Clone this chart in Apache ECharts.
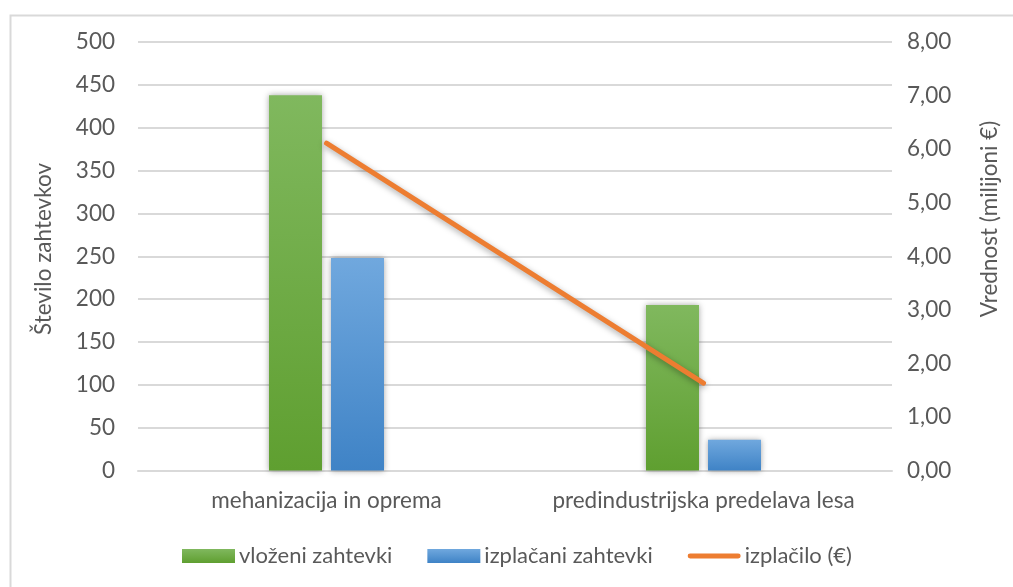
<!DOCTYPE html>
<html>
<head>
<meta charset="utf-8">
<script src="https://cdn.jsdelivr.net/npm/echarts@6/dist/echarts.min.js"></script>
<style>html,body{margin:0;padding:0;background:#fff;}#c{width:1013px;height:587px;}</style>
</head>
<body>
<div id="c"></div>
<script>
const categories = ['mehanizacija in oprema', 'predindustrijska predelava lesa'];
const vlozeni = [438, 193];
const izplacani = [248, 36];
const izplacilo = [6.11, 1.63];
const seriesNames = ['vloženi zahtevki', 'izplačani zahtevki', 'izplačilo (€)'];
const leftTitle = 'Število zahtevkov';
const rightTitle = 'Vrednost (milijoni €)';

const FONT = 'Lato';
const FS = 22.5;
const TXT = '#595959';
const chart = echarts.init(document.getElementById('c'), null, {renderer: 'canvas'});
const grad = (a, b) => new echarts.graphic.LinearGradient(0, 0, 0, 1, [{offset: 0, color: a}, {offset: 1, color: b}]);
chart.setOption({
  animation: false,
  backgroundColor: '#fff',
  textStyle: {fontFamily: FONT, color: TXT},
  grid: {left: 138, right: 121, top: 42, bottom: 116.5},
  legend: {
    left: 177, top: 540, itemWidth: 53, itemHeight: 14, itemGap: 35,
    textStyle: {fontFamily: FONT, fontSize: 22, color: TXT, padding: [0, 0, 0, -1]},
    data: [
      {name: seriesNames[0], icon: 'rect'},
      {name: seriesNames[1], icon: 'rect'},
      {name: seriesNames[2], icon: 'path://M2,4.5h49a2.5,2.5 0 0 1 0,5h-49a2.5,2.5 0 0 1 0,-5z M0,0h0.01v0.01h-0.01z M53,14h-0.01v-0.01h0.01z'}
    ]
  },
  xAxis: {
    type: 'category', data: categories,
    axisLine: {show: true, lineStyle: {color: '#d9d9d9', width: 2}},
    axisTick: {show: false},
    axisLabel: {fontFamily: FONT, fontSize: FS, color: TXT, margin: 19, interval: 0, hideOverlap: false}
  },
  yAxis: [
    {
      type: 'value', min: 0, max: 500, interval: 50,
      axisLine: {show: false}, axisTick: {show: false},
      splitLine: {lineStyle: {color: '#d9d9d9', width: 2}},
      axisLabel: {fontFamily: FONT, fontSize: FS, color: TXT, margin: 23}
    },
    {
      type: 'value', min: 0, max: 8, interval: 1, position: 'right',
      axisLine: {show: false}, axisTick: {show: false}, splitLine: {show: false},
      axisLabel: {fontFamily: FONT, fontSize: FS, color: TXT, margin: 15,
        formatter: v => v.toFixed(2).replace('.', ',')}
    }
  ],
  series: [
    {
      name: seriesNames[0], type: 'bar', data: vlozeni, barWidth: 53, barGap: '17%',
      itemStyle: {color: grad('#80b85e', '#5f9f30'), shadowBlur: 6, shadowColor: 'rgba(0,0,0,0.35)'}
    },
    {
      name: seriesNames[1], type: 'bar', data: izplacani, barWidth: 53, barGap: '17%',
      itemStyle: {color: grad('#70a8de', '#3f83c6'), shadowBlur: 6, shadowColor: 'rgba(0,0,0,0.35)'}
    },
    {
      name: seriesNames[2], type: 'line', yAxisIndex: 1, data: izplacilo,
      symbol: 'none', showSymbol: false,
      itemStyle: {color: '#ed7d31'},
      lineStyle: {color: '#ed7d31', width: 5, cap: 'round', shadowBlur: 6, shadowColor: 'rgba(0,0,0,0.35)', shadowOffsetY: 2}
    }
  ],
  graphic: [
    {type: 'rect', left: 8, top: 13, shape: {width: 1100, height: 1000}, style: {fill: 'none', stroke: '#d9d9d9', lineWidth: 2}, silent: true},
    {type: 'text', x: 44, y: 249, rotation: Math.PI / 2, style: {text: leftTitle, font: FS + 'px ' + FONT, fill: TXT, align: 'center', verticalAlign: 'middle'}},
    {type: 'text', x: 990, y: 219, rotation: Math.PI / 2, style: {text: rightTitle, font: FS + 'px ' + FONT, fill: TXT, align: 'center', verticalAlign: 'middle'}}
  ]
});
</script>
</body>
</html>
